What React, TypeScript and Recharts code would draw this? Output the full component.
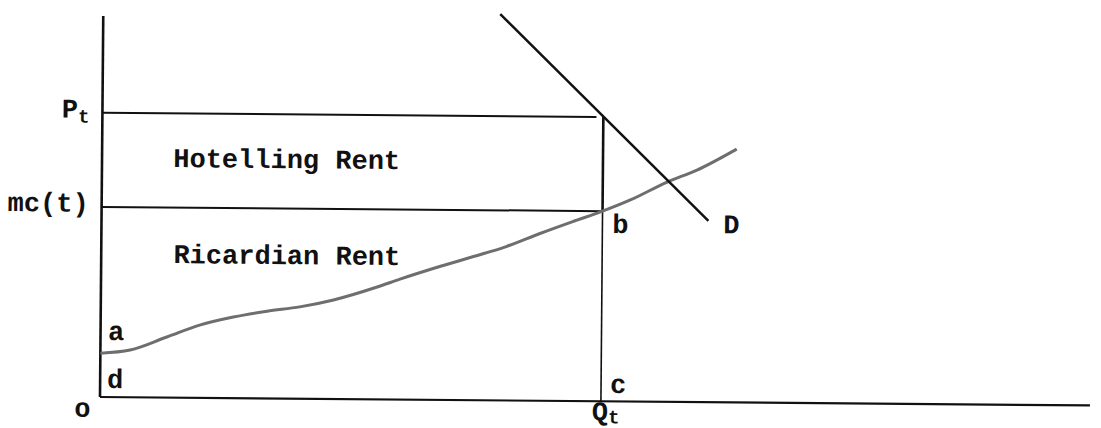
import React from "react";
import { ComposedChart, Line, XAxis, YAxis, ReferenceLine, ReferenceDot } from "recharts";

// quantities on x (0..100), prices on y (0..102)
const QT = 50.6;
const PT = 74.6;
const MC_T = 49.9;
const PT_LINE_END = 49.9;

const mcQty = [0, 3.0, 6.7, 10.0, 13.4, 16.8, 20.1, 23.5, 27.9, 30.2, 34.2, 37.6, 40.9, 44.3, 47.6, 50.6, 53.4, 57.1, 60.1, 64.1];
const mcCost = [11.5, 12.4, 15.9, 19.1, 21.3, 22.9, 24.1, 26.0, 29.5, 31.6, 35.0, 37.7, 40.4, 43.9, 47.1, 49.9, 52.9, 57.7, 60.9, 66.5];

const demandQty = [40.1, 61.3];
const demandPrice = [101.4, 47.6];

const xTicks = [0, QT];
const xTickLabels = ["o", "Q_t"];
const yTicks = [MC_T, PT];
const yTickLabels = ["mc(t)", "P_t"];

const noteText = ["Hotelling Rent", "Ricardian Rent", "a", "d", "c", "b", "D"];
const noteQty = [7.2, 7.3, 0.76, 0.7, 51.5, 51.6, 62.8];
const notePrice = [60.5, 35.3, 15.0, 2.4, 2.2, 44.2, 44.4];

const mcData = mcQty.map((q, i) => ({ q, v: mcCost[i] }));
const demandData = demandQty.map((q, i) => ({ q, v: demandPrice[i] }));

const FONT = "'Liberation Mono', 'Courier New', monospace";
const INK = "#111";

function Sub({ label, x, y, anchor, subShift = 5 }: { label: string; x: number; y: number; anchor: "start" | "middle" | "end"; subShift?: number }) {
  const [main, sub] = label.split("_");
  return (
    <text x={x} y={y} textAnchor={anchor} fontFamily={FONT} fontWeight="bold" fontSize={27} fill={INK}>
      <tspan>{main}</tspan>
      {sub ? (
        <tspan dy={subShift} fontSize={19}>
          {sub}
        </tspan>
      ) : null}
    </text>
  );
}

function XTick(p: any) {
  const i = xTicks.indexOf(p.payload.value);
  const label = xTickLabels[i] ?? "";
  if (i === 0) return <Sub label={label} x={p.x - 17.5} y={p.y + 20} anchor="middle" />;
  return <Sub label={label} x={p.x - 9} y={p.y + 19} anchor="start" subShift={3} />;
}

function YTick(p: any) {
  const i = yTicks.indexOf(p.payload.value);
  return <Sub label={yTickLabels[i] ?? ""} x={p.x} y={p.y + 5} anchor="end" />;
}

export default function App() {
  return (
    <div style={{ width: 1101, height: 428, overflow: "hidden", background: "#fff" }}>
      <style>{`body{margin:0;overflow:hidden}`}</style>
      <div style={{ transform: "rotate(0.49deg)", transformOrigin: "100px 397px" }}>
        <ComposedChart width={1101} height={428} margin={{ top: 8.4, right: 11, bottom: 0, left: 10 }}>
          <XAxis
            type="number"
            dataKey="q"
            domain={[0, 100]}
            ticks={xTicks}
            interval={0}
            height={31}
            tickSize={0}
            tickMargin={0}
            tickLine={false}
            axisLine={{ stroke: INK, strokeWidth: 2.2 }}
            tick={<XTick />}
          />
          <YAxis
            type="number"
            domain={[0, 102]}
            ticks={yTicks}
            interval={0}
            width={90}
            tickSize={0}
            tickMargin={13}
            tickLine={false}
            axisLine={false}
            tick={<YTick />}
          />
          <ReferenceLine segment={[{ x: 0, y: 0 }, { x: 0, y: 100 }]} stroke={INK} strokeWidth={2.6} />
          <ReferenceLine segment={[{ x: 0, y: PT }, { x: PT_LINE_END, y: PT }]} stroke={INK} strokeWidth={2} />
          <ReferenceLine segment={[{ x: 0, y: MC_T }, { x: QT, y: MC_T }]} stroke={INK} strokeWidth={2} />
          <ReferenceLine segment={[{ x: QT, y: PT }, { x: QT, y: MC_T }]} stroke={INK} strokeWidth={2.6} />
          <ReferenceLine segment={[{ x: QT, y: MC_T }, { x: QT, y: 0 }]} stroke={INK} strokeWidth={1.6} />
          <Line
            data={mcData}
            dataKey="v"
            type="monotone"
            stroke="#6e6e6e"
            strokeWidth={3}
            dot={false}
            activeDot={false}
            isAnimationActive={false}
          />
          <Line
            data={demandData}
            dataKey="v"
            type="linear"
            stroke={INK}
            strokeWidth={2.5}
            dot={false}
            activeDot={false}
            isAnimationActive={false}
          />
          {noteText.map((t, i) => (
            <ReferenceDot
              key={t}
              x={noteQty[i]}
              y={notePrice[i]}
              r={0}
              shape={(p: any) => (
                <text x={p.cx} y={p.cy} fontFamily={FONT} fontWeight="bold" fontSize={27} fill={INK}>
                  {t}
                </text>
              )}
            />
          ))}
        </ComposedChart>
      </div>
    </div>
  );
}
